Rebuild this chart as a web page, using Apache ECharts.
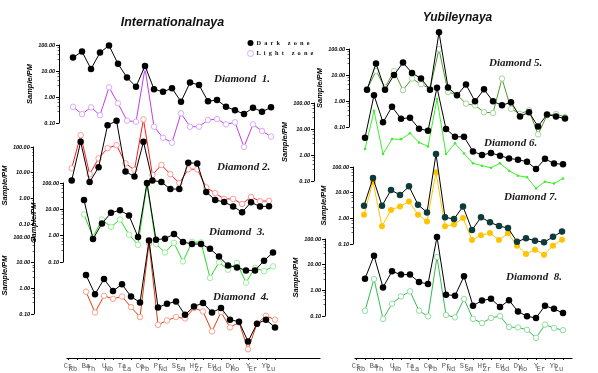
<!DOCTYPE html>
<html><head><meta charset="utf-8">
<script src="https://cdn.jsdelivr.net/npm/echarts@6/dist/echarts.min.js"></script>
<style>html,body{margin:0;padding:0;background:#fff}#c{width:598px;height:373px}</style>
</head><body><div id="c"></div>
<script>
// ---------- DATA ----------
const elements = ['Cs','Rb','Ba','Th','U','Nb','Ta','La','Ce','Pb','Pr','Nd','Sr','Sm','Hf','Zr','Eu','Gd','Dy','Ho','Y','Er','Yb','Lu'];
const yTicks = [0.1, 1, 10, 100];

// Internationalnaya
const d1Dark  = [null,33,56,12,51,96,18.8,5.6,2.5,15.7,2.0,1.6,2.16,0.66,3.6,2.9,0.68,0.77,0.42,0.31,0.22,0.39,0.27,0.40];
const d1Light = [null,0.42,0.22,0.40,0.20,2.36,0.57,0.123,0.112,12.7,0.072,0.027,0.0175,0.236,0.072,0.072,0.13,0.142,0.089,0.106,0.012,0.089,0.049,0.030];
const d2Dark  = [null,5.0,159,4.3,16.3,700,1050,11,7.1,159,5.0,4.3,2.3,2.3,24.5,23,1.77,0.86,0.72,0.48,0.29,0.70,0.48,0.49];
const d2Light = [null,14.9,288,8.7,36,90,118,23,12.8,1200,8.2,20,8.7,3.9,13.6,13.6,2.66,1.6,0.95,0.95,0.6,1.13,0.77,0.8];
const d3Dark  = [null,null,22.6,0.75,2.9,7.4,9.3,5.8,0.89,100,0.70,0.77,1.16,0.58,0.48,0.48,0.32,0.16,0.074,0.062,0.048,0.048,0.112,0.23];
const d3Light = [null,null,6.4,0.89,4.1,2.15,4.1,1.09,0.45,90,0.48,0.23,0.53,0.105,0.58,0.56,0.025,0.097,0.051,0.092,0.0165,0.06,0.045,0.068];
const d4Dark  = [null,null,3.3,0.59,2.3,0.79,1.43,0.48,0.28,73,0.18,0.25,0.31,0.093,0.196,0.27,0.115,0.17,0.06,0.05,0.0085,0.042,0.06,0.03];
const d4Light = [null,null,0.74,0.115,0.51,0.39,0.48,0.185,0.076,58,0.038,0.056,0.076,0.067,0.17,0.126,0.021,0.118,0.03,0.047,0.0042,0.042,0.085,0.06];
// Yubileynaya
const d5Dark  = [null,2.7,27.6,2.7,10,30,12,7.3,2.7,436,3.3,1.65,4.3,0.97,2.8,0.97,0.68,0.9,0.255,0.37,0.105,0.3,0.255,0.21];
const d5Light = [null,2.8,14.3,3.3,14,2.6,7.3,4.4,3.0,98,2.2,1.75,0.79,0.68,0.37,0.35,7.3,0.5,0.32,0.44,0.052,0.28,0.32,0.24];
const d6Dark  = [null,4.6,200,18,72,25,27,10.3,8.6,390,10,5.0,5.0,1.37,1.0,1.2,0.94,0.74,0.66,0.55,0.29,0.71,0.47,0.44];
const d6Light = [null,1.7,50,1.09,4.1,4.0,6.8,3.05,2.14,142,1.09,2.8,1.15,0.48,0.39,0.32,0.48,0.25,0.16,0.14,0.052,0.094,0.08,0.126];
const d7Dark  = [null,3.1,37,3.1,12.7,8.1,17.6,3.4,1.7,320,1.1,0.94,2.9,0.35,1.1,0.7,0.5,0.42,0.123,0.166,0.135,0.116,0.19,0.31];
const d7Light = [null,1.39,26.8,0.49,2.1,2.9,4.5,1.39,0.76,62,0.49,0.57,1.03,0.143,0.22,0.27,0.143,0.26,0.086,0.041,0.06,0.038,0.086,0.148];
const d8Dark  = [null,2.85,22.4,1.3,5.5,4.1,4.1,2.1,1.76,120,0.68,0.62,3.5,0.25,0.40,0.47,0.225,0.41,0.15,0.097,0.084,0.25,0.19,0.13];
const d8Light = [null,0.16,2.76,0.077,0.30,0.58,0.91,0.16,0.097,19.9,0.11,0.089,0.46,0.077,0.053,0.084,0.1,0.037,0.036,0.029,0.014,0.046,0.034,0.028];

const diamondLabels = ['Diamond  1.','Diamond 2.','Diamond  3.','Diamond  4.','Diamond 5.','Diamond 6.','Diamond 7.','Diamond  8.'];
const columnTitles = ['Internationalnaya','Yubileynaya'];
const legendNames = ['Dark zone','Light zone'];

// ---------- LAYOUT / STYLE ----------
const panels = [
  {dark:d1Dark, light:d1Light, left:64, top:45, h:78, axisX:59, lc:'#c23cf0', mc:'#dcaaff', lt:'hollow', lx:214, ly:79},
  {dark:d2Dark, light:d2Light, left:62, top:147, h:77, axisX:33, lc:'#ff1a1a', mc:'#ff9a9a', lt:'hollow', lx:217, ly:167},
  {dark:d3Dark, light:d3Light, left:66, top:183, h:79, axisX:63, lc:'#22dd22', mc:'#9bef9b', lt:'hollow', lx:209, ly:232},
  {dark:d4Dark, light:d4Light, left:68, top:237, h:77, axisX:34, lc:'#e23c0c', mc:'#ffa08a', lt:'hollow', lx:213, ly:297},
  {dark:d5Dark, light:d5Light, left:358, top:49, h:78, axisX:349, lc:'#4f9a2a', mc:'#a6d79a', lt:'hollow', lx:489, ly:63},
  {dark:d6Dark, light:d6Light, left:356, top:103, h:78, axisX:314, lc:'#3cef2a', mc:'#3cef2a', lt:'dot', lx:484, ly:143},
  {dark:d7Dark, light:d7Light, left:355, top:167, h:77, axisX:353, lc:'#ffc400', mc:'#ffc400', lt:'filled', lx:504, ly:197, dm:'#0e3b39'},
  {dark:d8Dark, light:d8Light, left:356, top:239, h:77, axisX:325, lc:'#33bb55', mc:'#90e0a0', lt:'hollow', lx:506, ly:277},
];
const PW = 207;

const grid = [], xAxis = [], yAxis = [], series = [], graphic = [];

panels.forEach((p, i) => {
  grid.push({left:p.left, top:p.top, width:PW, height:p.h});
  xAxis.push({gridIndex:i, type:'category', data:elements, boundaryGap:false, show:false});
  yAxis.push({
    gridIndex:i, type:'log', logBase:10, min:yTicks[0], max:yTicks[yTicks.length-1], interval:1,
    position:'left', offset:p.left - p.axisX,
    axisLine:{show:true, lineStyle:{color:'#000', width:1}},
    axisTick:{show:true, length:3, lineStyle:{color:'#000', width:1}},
    minorTick:{show:true, length:1.5, splitNumber:5, lineStyle:{color:'#000', width:0.6}},
    splitLine:{show:false},
    axisLabel:{show:true, margin:4, showMinLabel:true, showMaxLabel:true,
      formatter: v => Number(v).toFixed(2),
      fontSize:5.5, fontStyle:'italic', fontWeight:'bold', fontFamily:'Liberation Sans', color:'#000'},
    name:'Sample/PM', nameLocation:'middle', nameGap:14,
    nameTextStyle:{fontSize:7.5, fontStyle:'italic', fontWeight:'bold', fontFamily:'Liberation Sans', color:'#000'}
  });
  const lightSym = p.lt === 'hollow'
    ? {symbol:'circle', symbolSize:5.5, itemStyle:{color:'#fff', borderColor:p.mc, borderWidth:1}}
    : p.lt === 'dot'
      ? {symbol:'circle', symbolSize:2.5, itemStyle:{color:p.mc}}
      : {symbol:'circle', symbolSize:6, itemStyle:{color:p.mc}};
  series.push(Object.assign({
    name: i === 0 ? legendNames[1] : 'L' + (i+1), type:'line', xAxisIndex:i, yAxisIndex:i,
    data:p.light, clip:false, connectNulls:false, showAllSymbol:true, lineStyle:{color:p.lc, width:1}, z:2
  }, lightSym));
  series.push({
    name: i === 0 ? legendNames[0] : 'D' + (i+1), type:'line', xAxisIndex:i, yAxisIndex:i,
    data:p.dark, clip:false, connectNulls:false, showAllSymbol:true, symbol:'circle', symbolSize:6.5,
    itemStyle:{color:p.dm || '#000'}, lineStyle:{color:'#000', width:1}, z:3
  });
  graphic.push({type:'text', x:p.lx, y:p.ly, style:{text:diamondLabels[i], align:'left', verticalAlign:'middle',
    fontSize:11, fontStyle:'italic', fontWeight:'bold', fontFamily:'Liberation Serif', fill:'#1a1a1a'}});
});

// bottom element axes (upper labels, lower labels, plain line)
function addBottomAxis(left, lineLeft, lineWidth) {
  let gi = grid.length;
  grid.push({left:left, top:357, width:PW, height:1});
  xAxis.push({gridIndex:gi, type:'category', data:elements, boundaryGap:false,
    axisLine:{show:false}, axisTick:{show:true, interval:0, length:2, lineStyle:{color:'#000'}},
    axisLabel:{interval:(idx) => idx % 2 === 0, margin:5, fontSize:7, fontFamily:'Liberation Mono', color:'#555'}});
  yAxis.push({gridIndex:gi, type:'value', show:false});
  gi = grid.length;
  grid.push({left:left - 4, top:357, width:PW, height:1});
  xAxis.push({gridIndex:gi, type:'category', data:elements, boundaryGap:false,
    axisLine:{show:false}, axisTick:{show:false},
    axisLabel:{interval:(idx) => idx % 2 === 1, margin:8, fontSize:7, fontFamily:'Liberation Mono', color:'#555'}});
  yAxis.push({gridIndex:gi, type:'value', show:false});
  gi = grid.length;
  grid.push({left:lineLeft, top:357, width:lineWidth, height:1});
  xAxis.push({gridIndex:gi, type:'value', min:0, max:1, axisLine:{show:true, lineStyle:{color:'#000', width:1.2}},
    axisTick:{show:false}, axisLabel:{show:false}, splitLine:{show:false}});
  yAxis.push({gridIndex:gi, type:'value', show:false});
}
addBottomAxis(68, 67, 253);
addBottomAxis(356, 355, 217);

graphic.push({type:'text', x:172.5, y:22.5, style:{text:columnTitles[0], align:'center', verticalAlign:'middle',
  fontSize:12.5, fontStyle:'italic', fontWeight:'bold', fontFamily:'Liberation Sans', fill:'#111'}});
graphic.push({type:'text', x:457.5, y:17.5, style:{text:columnTitles[1], align:'center', verticalAlign:'middle',
  fontSize:12, fontStyle:'italic', fontWeight:'bold', fontFamily:'Liberation Sans', fill:'#111'}});

const chart = echarts.init(document.getElementById('c'), null, {renderer:'canvas'});
chart.setOption({
  animation:false,
  backgroundColor:'#fff',
  grid, xAxis, yAxis, series, graphic,
  legend:{
    orient:'vertical', left:247, top:40, padding:0, itemWidth:6, itemHeight:6, itemGap:4,
    data:[
      {name:legendNames[0], icon:'circle', itemStyle:{color:'#000'}},
      {name:legendNames[1], icon:'circle', itemStyle:{color:'#fff', borderColor:'#dcaaff', borderWidth:1}}
    ],
    formatter: n => n.split('').join('\u2002'),
    textStyle:{fontSize:6.3, fontWeight:'bold', fontFamily:'Liberation Serif', color:'#111', padding:[0,0,0,-2]}
  }
});
</script></body></html>
